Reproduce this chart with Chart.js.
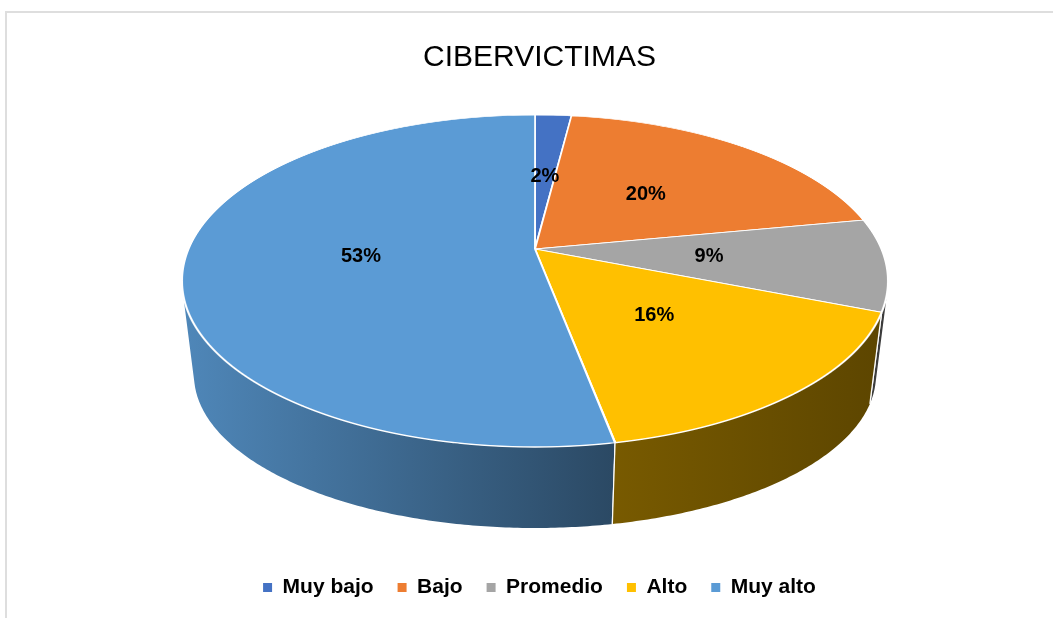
<!DOCTYPE html>
<html>
<head>
<meta charset="utf-8">
<script src="https://cdn.jsdelivr.net/npm/chart.js@4.4.1/dist/chart.umd.min.js"></script>
<style>
  body { margin: 0; overflow: hidden; background: #fff; }
  #frame { position: absolute; left: 5px; top: 11px; width: 1200px; height: 700px; border: 2px solid #dedede; }
  #c { position: absolute; left: 0; top: 0; }
</style>
</head>
<body>
<div id="frame"></div>
<canvas id="c" width="1053" height="618"></canvas>
<script>
// data
var categories = ['Muy bajo', 'Bajo', 'Promedio', 'Alto', 'Muy alto'];
var values = [2, 20, 9, 16, 53];
var colors = ['#4472C4', '#ED7D31', '#A5A5A5', '#FFC000', '#5B9BD5'];

// how the flat pie is tilted on screen: top disc and base disc of the 3d slab
var view = {
	centerX: 535,
	top: { apexY: 249, topY: 115, bottomY: 447, halfWidth: 353 },
	base: { topY: 222, bottomY: 528, halfWidth: 341 }
};

function shade(hex, f) {
	var n = parseInt(hex.slice(1), 16);
	var r = Math.round(((n >> 16) & 255) * f), g = Math.round(((n >> 8) & 255) * f), b = Math.round((n & 255) * f);
	return 'rgb(' + r + ',' + g + ',' + b + ')';
}

// projective map of the unit disc (u right, v towards the viewer) onto the screen
function disc(d, c) {
	var a = d.apexY !== undefined ? d.apexY : (c * (d.bottomY - d.topY) + d.topY + d.bottomY) / 2;
	if (c === undefined) c = (2 * a - d.topY - d.bottomY) / (d.bottomY - d.topY);
	var b = a - d.topY + d.topY * c;
	var rx = d.halfWidth * Math.sqrt(1 - c * c);
	var cx = view.centerX;
	return {
		cx: cx, c: c, rx: rx,
		x: function (u, v) { return cx + rx * u / (1 + c * v); },
		y: function (v) { return (a + b * v) / (1 + c * v); },
		vAt: function (Y) { return (Y - a) / (b - c * Y); }
	};
}

function cameras() {
	var top = disc(view.top);
	return { top: top, base: disc(view.base, top.c) };
}

function rimPoint(cam, t) {
	var u = Math.cos(t), v = Math.sin(t);
	return {
		tx: cam.top.x(u, v), ty: cam.top.y(v),
		bx: cam.base.x(u, v), by: cam.base.y(v)
	};
}

// the wall between angles t0 and t1, as many thin quads all wound the same way
function sidePath(ctx, cam, t0, t1) {
	var n = Math.max(2, Math.ceil((t1 - t0) / 0.01));
	ctx.beginPath();
	var p = rimPoint(cam, t0);
	for (var i = 1; i <= n; i++) {
		var q = rimPoint(cam, t0 + (t1 - t0) * i / n);
		var pts = [[p.tx, p.ty], [q.tx, q.ty], [q.bx, q.by], [p.bx, p.by]];
		var area = 0;
		for (var k = 0; k < 4; k++) {
			var m = pts[(k + 1) % 4];
			area += pts[k][0] * m[1] - m[0] * pts[k][1];
		}
		if (area < 0) pts.reverse();
		ctx.moveTo(pts[0][0], pts[0][1]);
		for (k = 1; k < 4; k++) ctx.lineTo(pts[k][0], pts[k][1]);
		ctx.closePath();
		p = q;
	}
}

var pie3d = {
	id: 'pie3d',
	beforeDatasetDraw: function (chart, args) {
		var ctx = chart.ctx;
		var meta = args.meta;
		var cam = cameras();
		var lo = -0.1, hi = Math.PI + 0.1;

		// side walls, far pieces first
		var pieces = [];
		meta.data.forEach(function (arc, i) {
			[0, -2 * Math.PI].forEach(function (k) {
				var s = Math.max(arc.startAngle + k, lo), e = Math.min(arc.endAngle + k, hi);
				if (e > s) pieces.push({ i: i, s: s, e: e, cutS: s > lo, cutE: e < hi });
			});
		});
		pieces.sort(function (p, q) { return Math.sin((p.s + p.e) / 2) - Math.sin((q.s + q.e) / 2); });
		pieces.forEach(function (p) {
			var g = ctx.createLinearGradient(view.centerX - view.top.halfWidth, 0, view.centerX + view.top.halfWidth, 0);
			g.addColorStop(0, shade(colors[p.i], 0.87));
			g.addColorStop(0.61, shade(colors[p.i], 0.47));
			g.addColorStop(1, shade(colors[p.i], 0.36));
			sidePath(ctx, cam, p.s, p.e);
			ctx.fillStyle = g;
			ctx.fill('nonzero');
			// white edges where two slices meet
			ctx.strokeStyle = '#fff';
			ctx.lineWidth = 1.2;
			[p.cutS ? p.s : null, p.cutE ? p.e : null].forEach(function (t) {
				if (t === null) return;
				var r = rimPoint(cam, t);
				ctx.beginPath();
				ctx.moveTo(r.tx, r.ty);
				ctx.lineTo(r.bx, r.by);
				ctx.stroke();
			});
		});

		// top face: library arcs, drawn one screen row at a time through the perspective
		var t = cam.top;
		var a0 = meta.data[0];
		var R = a0.outerRadius, ox = a0.x, oy = a0.y;
		var y0 = Math.floor(t.y(-1)) - 2, y1 = Math.ceil(t.y(1)) + 2;
		for (var Y = y0; Y < y1; Y++) {
			var va = t.vAt(Y), vb = t.vAt(Y + 1), vm = t.vAt(Y + 0.5);
			var kx = t.rx / (1 + t.c * vm) / R;
			var ky = 1 / ((vb - va) * R);
			ctx.save();
			ctx.beginPath();
			ctx.rect(0, Y, chart.width, 1);
			ctx.clip();
			ctx.transform(kx, 0, 0, ky, t.cx - kx * ox, Y - va / (vb - va) - ky * oy);
			meta.data.forEach(function (arc) { arc.draw(ctx); });
			ctx.restore();
		}
		return false;
	},
	afterDatasetsDraw: function (chart) {
		var ctx = chart.ctx;
		var t = cameras().top;
		var total = values.reduce(function (s, v) { return s + v; }, 0);
		ctx.save();
		ctx.font = 'bold 20px "Liberation Sans", Arial, sans-serif';
		ctx.fillStyle = '#000';
		ctx.textAlign = 'center';
		ctx.textBaseline = 'middle';
		chart.getDatasetMeta(0).data.forEach(function (arc, i) {
			var m = (arc.startAngle + arc.endAngle) / 2;
			var u = 0.5 * Math.cos(m), v = 0.5 * Math.sin(m);
			ctx.fillText(Math.round(values[i] / total * 100) + '%', t.x(u, v), t.y(v));
		});
		ctx.restore();
	}
};

new Chart(document.getElementById('c').getContext('2d'), {
	type: 'pie',
	data: {
		labels: categories,
		datasets: [{
			data: values,
			backgroundColor: colors,
			borderColor: '#fff',
			borderWidth: 1.3
		}]
	},
	options: {
		responsive: false,
		animation: false,
		events: [],
		layout: { padding: { left: 26, top: 0, right: 0, bottom: 10 } },
		plugins: {
			title: {
				display: true,
				text: 'CIBERVICTIMAS',
				color: '#000',
				font: { family: '"Liberation Sans", Arial, sans-serif', size: 30, weight: 'normal' },
				padding: { top: 40, bottom: 10 }
			},
			legend: {
				position: 'bottom',
				labels: {
					color: '#000',
					font: { family: '"Liberation Sans", Arial, sans-serif', size: 21, weight: 'bold' },
					boxWidth: 9,
					boxHeight: 9,
					padding: 24,
					generateLabels: function (chart) {
						return Chart.overrides.pie.plugins.legend.labels.generateLabels(chart).map(function (l) {
							l.lineWidth = 0;
							return l;
						});
					}
				}
			},
			tooltip: { enabled: false }
		}
	},
	plugins: [pie3d]
});
</script>
</body>
</html>
